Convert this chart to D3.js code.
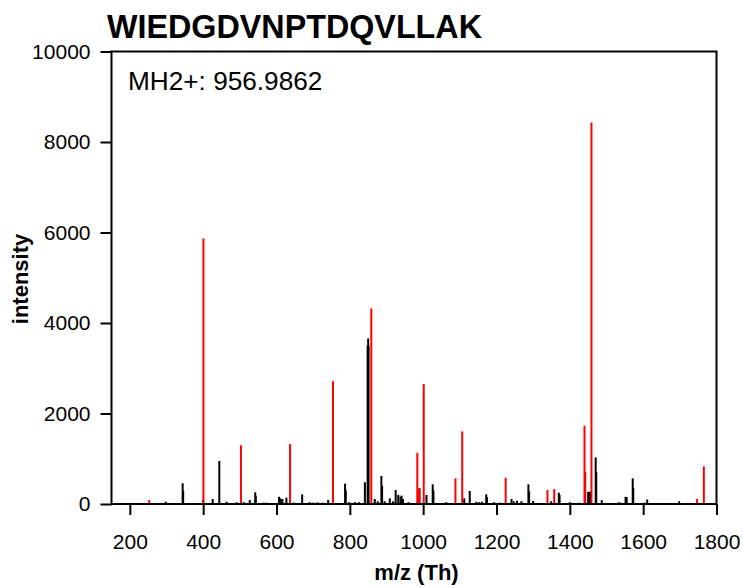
<!DOCTYPE html>
<html>
<head>
<meta charset="utf-8">
<script src="https://cdn.jsdelivr.net/npm/d3@7"></script>
<style>
  html, body { margin: 0; padding: 0; background: #fff; }
  svg { display: block; font-family: "Liberation Sans", Arial, sans-serif; }
</style>
</head>
<body>
<svg id="chart" width="743" height="587"></svg>
<script>
// ---- data ----
const title = "WIEDGDVNPTDQVLLAK";
const precursorLabel = "MH2+: 956.9862";
const xTicks = [200, 400, 600, 800, 1000, 1200, 1400, 1600, 1800];
const yTicks = [0, 2000, 4000, 6000, 8000, 10000];

// annotated (matched) fragment peaks – drawn red
const redMz  = [253, 400.7, 503, 637, 754, 858.5, 984, 989, 1001.5, 1088, 1106.5, 1225, 1339, 1357.5, 1440, 1442, 1459, 1747, 1765.5];
const redInt = [90, 5870, 1300, 1325, 2715, 4320, 1130, 340, 2650, 567, 1605, 580, 309, 331, 1730, 710, 8430, 110, 832];

// unannotated peaks – drawn black
const blackMz  = [298, 344, 345.5, 400, 426, 444, 464, 491, 511, 527, 542, 543.5, 564, 572, 607, 611, 616, 627, 648, 670, 690, 700, 712, 725, 741, 787, 789, 798, 814, 825, 841, 848.5, 850, 851, 868, 876, 886, 888, 895, 909, 918, 925, 932, 938, 941, 945, 960, 990, 1009, 1026, 1028, 1063, 1112, 1127, 1145, 1152, 1160, 1172, 1174, 1193, 1209, 1241, 1247, 1256, 1268, 1287, 1289, 1300, 1349, 1370, 1372, 1400, 1425, 1450, 1455, 1470.5, 1472, 1487, 1535, 1552, 1555, 1571.5, 1573, 1602, 1611, 1668, 1698];
const blackInt = [50, 457, 290, 90, 110, 950, 50, 40, 40, 90, 258, 180, 30, 30, 160, 120, 110, 140, 30, 213, 40, 30, 35, 30, 90, 450, 300, 40, 40, 40, 480, 3500, 3660, 3500, 110, 60, 618, 400, 60, 125, 60, 310, 200, 160, 185, 110, 40, 350, 200, 435, 300, 40, 125, 287, 50, 40, 50, 214, 150, 40, 30, 110, 60, 70, 60, 435, 280, 66, 60, 250, 200, 40, 30, 272, 270, 1030, 700, 85, 40, 160, 150, 567, 350, 30, 100, 20, 60];

// ---- layout ----
const L = 111.5, R = 716.5, T = 51.5, B = 504;
const svg = d3.select("#chart");

const x = d3.scaleLinear().domain([150, 1800]).range([L, R]);
const y = d3.scaleLinear().domain([0, 10000]).range([B, T]);

const black = blackMz.map((m, i) => ({ mz: m, v: blackInt[i] }));
const red = redMz.map((m, i) => ({ mz: m, v: redInt[i] }));

// peaks
svg.append("g").selectAll("line").data(black).join("line")
  .attr("x1", d => x(d.mz)).attr("x2", d => x(d.mz))
  .attr("y1", y(0)).attr("y2", d => y(d.v))
  .attr("stroke", "#000").attr("stroke-width", 2);

svg.append("g").selectAll("line").data(red).join("line")
  .attr("x1", d => x(d.mz)).attr("x2", d => x(d.mz))
  .attr("y1", y(0)).attr("y2", d => y(d.v))
  .attr("stroke", "#ff0000").attr("stroke-width", 2);

// axes
const xAxis = svg.append("g").attr("transform", `translate(0,${B})`)
  .call(d3.axisBottom(x).tickValues(xTicks).tickSize(11).tickSizeOuter(0).tickPadding(19).tickFormat(d3.format("d")));
const yAxis = svg.append("g").attr("transform", `translate(${L},0)`)
  .call(d3.axisLeft(y).tickValues(yTicks).tickSize(11).tickSizeOuter(0).tickPadding(10).tickFormat(d3.format("d")));
[xAxis, yAxis].forEach(g => {
  g.select(".domain").remove();
  g.selectAll(".tick line").attr("stroke", "#000").attr("stroke-width", 2);
  g.selectAll(".tick text").attr("fill", "#000").attr("font-size", 21)
    .attr("font-family", "'Liberation Sans', Arial, sans-serif");
});

// frame
svg.append("rect").attr("x", L).attr("y", T).attr("width", R - L).attr("height", B - T)
  .attr("fill", "none").attr("stroke", "#000").attr("stroke-width", 2);

// texts
svg.append("text").attr("x", 107).attr("y", 38)
  .attr("font-size", 32.3).attr("font-weight", "bold").attr("fill", "#000").text(title);
svg.append("text").attr("x", 128).attr("y", 90)
  .attr("font-size", 26.2).attr("fill", "#000").text(precursorLabel);
svg.append("text").attr("x", 416.5).attr("y", 580).attr("text-anchor", "middle")
  .attr("font-size", 22).attr("font-weight", "bold").attr("fill", "#000").text("m/z (Th)");
svg.append("text").attr("transform", "translate(28,279) rotate(-90)").attr("text-anchor", "middle")
  .attr("font-size", 22).attr("font-weight", "bold").attr("fill", "#000").text("intensity");
</script>
</body>
</html>
